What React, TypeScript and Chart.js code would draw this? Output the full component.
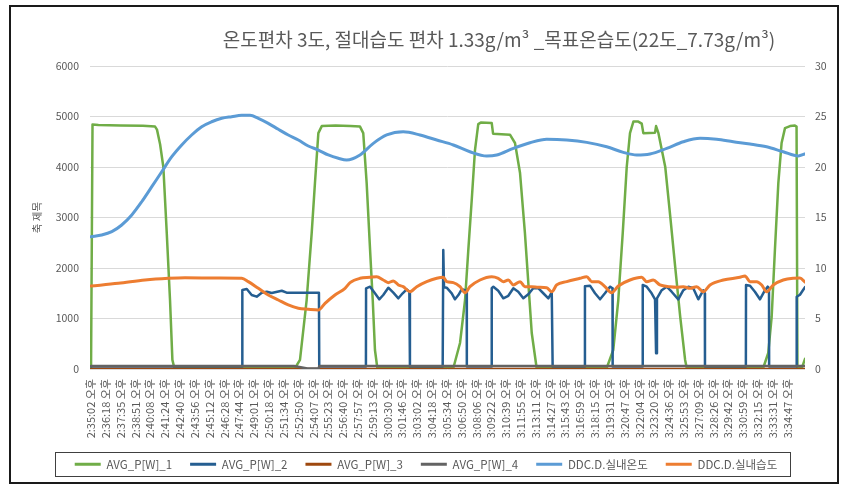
import React, { useEffect, useRef } from 'react';
import { Chart, registerables } from 'chart.js';

Chart.register(...registerables);

const TITLE = '온도편차 3도, 절대습도 편차 1.33g/m³ _목표온습도(22도_7.73g/m³)';
const Y_TITLE = '축 제목';

const tickLabels = [
  '2:35:02 오후', '2:36:18 오후', '2:37:35 오후', '2:38:51 오후', '2:40:08 오후', '2:41:24 오후',
  '2:42:40 오후', '2:43:56 오후', '2:45:12 오후', '2:46:28 오후', '2:47:44 오후', '2:49:01 오후',
  '2:50:18 오후', '2:51:34 오후', '2:52:50 오후', '2:54:07 오후', '2:55:23 오후', '2:56:40 오후',
  '2:57:57 오후', '2:59:13 오후', '3:00:30 오후', '3:01:46 오후', '3:03:02 오후', '3:04:18 오후',
  '3:05:34 오후', '3:06:50 오후', '3:08:06 오후', '3:09:22 오후', '3:10:39 오후', '3:11:55 오후',
  '3:13:11 오후', '3:14:27 오후', '3:15:43 오후', '3:16:59 오후', '3:18:15 오후', '3:19:31 오후',
  '3:20:47 오후', '3:22:04 오후', '3:23:20 오후', '3:24:36 오후', '3:25:53 오후', '3:27:09 오후',
  '3:28:26 오후', '3:29:42 오후', '3:30:59 오후', '3:32:15 오후', '3:33:31 오후', '3:34:47 오후',
];

const seriesNames = ['AVG_P[W]_1', 'AVG_P[W]_2', 'AVG_P[W]_3', 'AVG_P[W]_4', 'DDC.D.실내온도', 'DDC.D.실내습도'];
const seriesColors = ['#70AD47', '#255E91', '#9E480E', '#636363', '#5B9BD5', '#ED7D31'];

// x = position along the time axis, in label intervals (label i sits at x = i)
const avgP1: [number, number][] = [
  [0, 20], [0.1, 4840], [0.5, 4830], [2, 4820], [3.5, 4815], [4.32, 4800], [4.45, 4740], [4.66, 4450],
  [4.88, 4000], [5.11, 2690], [5.33, 1366], [5.49, 180], [5.62, 20],
  [13.77, 20], [14.1, 180], [14.55, 1366], [14.89, 2690], [15.11, 3680], [15.34, 4670], [15.57, 4810],
  [16.5, 4820], [17.5, 4810], [18.15, 4800], [18.37, 4670], [18.6, 3680], [18.83, 2360], [19.01, 1366],
  [19.16, 376], [19.32, 20],
  [24.45, 20], [24.9, 515], [25.24, 1366], [25.46, 2360], [25.69, 3346], [25.91, 4336], [26.13, 4850],
  [26.3, 4880], [27.04, 4870], [27.13, 4660], [28.27, 4640], [28.61, 4475], [28.95, 3880], [29.28, 2690],
  [29.51, 1700], [29.74, 713], [30.07, 20],
  [34.8, 20], [35.24, 376], [35.58, 1366], [35.88, 2690], [36.15, 4000], [36.37, 4670], [36.6, 4900],
  [36.93, 4900], [37.16, 4860], [37.27, 4670], [38.06, 4680], [38.13, 4810], [38.29, 4670], [38.75, 4000],
  [39.09, 3010], [39.42, 2020], [39.76, 1030], [40.09, 180], [40.2, 20],
  [45.36, 20], [45.7, 317], [45.93, 1030], [46.15, 2360], [46.38, 3680], [46.6, 4475], [46.83, 4770],
  [47.17, 4810], [47.5, 4820], [47.61, 4800], [47.67, 20], [47.97, 20], [48.18, 200],
];

const avgP2: [number, number][] = [
  [0, 50], [10.2, 50], [10.21, 1564], [10.51, 1584], [10.84, 1465], [11.18, 1432], [11.52, 1511],
  [11.86, 1530], [12.19, 1505], [12.87, 1550], [13.2, 1511], [15.38, 1511], [15.4, 50],
  [18.55, 50], [18.56, 1597], [18.83, 1630], [19.16, 1499], [19.45, 1380], [19.72, 1465], [20.06, 1610],
  [20.4, 1511], [20.74, 1400], [21.03, 1499], [21.3, 1578], [21.48, 1531], [21.52, 50],
  [23.73, 50], [23.77, 2356], [23.82, 1620], [24.0, 1610], [24.34, 1499], [24.56, 1380], [24.79, 1465],
  [25.02, 1580], [25.24, 1560], [25.35, 1540], [25.36, 50],
  [27.03, 50], [27.04, 1600], [27.15, 1630], [27.48, 1550], [27.82, 1400], [28.16, 1450], [28.5, 1600],
  [28.83, 1530], [29.17, 1400], [29.51, 1480], [29.84, 1600], [30.18, 1600], [30.52, 1500], [30.86, 1400],
  [31.09, 1520], [31.15, 50],
  [33.32, 50], [33.33, 1640], [33.67, 1650], [34.01, 1499], [34.35, 1380], [34.68, 1499], [35.02, 1630],
  [35.19, 1600], [35.2, 50],
  [37.22, 50], [37.23, 1663], [37.5, 1630], [37.83, 1499], [38.06, 1380], [38.13, 310], [38.19, 1400],
  [38.51, 1560], [38.85, 1630], [39.18, 1530], [39.63, 1380], [39.97, 1560], [40.31, 1630], [40.64, 1600],
  [40.98, 1380], [41.32, 1560], [41.42, 1500], [41.43, 50],
  [44.19, 50], [44.2, 1663], [44.47, 1650], [44.8, 1530], [45.14, 1380], [45.48, 1560], [45.66, 1630],
  [45.75, 1600], [45.76, 50],
  [47.61, 50], [47.62, 1430], [47.84, 1470], [48.04, 1560], [48.18, 1620],
];

const avgP3: [number, number][] = [[0, 0], [48.18, 0]];

const avgP4: [number, number][] = [[0, 60], [13.7, 60], [14.6, 8], [15.36, 8], [15.4, 60], [48.18, 60]];

const roomTemp: [number, number][] = [
  [0, 13.1], [0.72, 13.27], [1.4, 13.6], [2.07, 14.26], [2.75, 15.25], [3.42, 16.56], [4.1, 18.05],
  [4.77, 19.53], [5.45, 21.02], [6.12, 22.18], [6.79, 23.17], [7.47, 23.99], [8.14, 24.48], [8.82, 24.82],
  [9.49, 24.98], [10.17, 25.12], [10.73, 25.12], [11.29, 24.82], [11.96, 24.32], [12.64, 23.73],
  [13.31, 23.17], [13.99, 22.67], [14.66, 22.08], [15.34, 21.68], [16.01, 21.19], [16.69, 20.86],
  [17.25, 20.69], [18.15, 21.19], [19.05, 22.34], [19.95, 23.17], [21.07, 23.49], [22.2, 23.17],
  [23.33, 22.67], [24.45, 22.18], [25.57, 21.51], [26.7, 21.09], [27.38, 21.19], [28.5, 21.85],
  [29.62, 22.4], [30.75, 22.74], [32.1, 22.67], [33.45, 22.44], [34.8, 22.0], [35.92, 21.45],
  [36.82, 21.19], [37.72, 21.29], [38.85, 21.85], [39.97, 22.5], [41.1, 22.84], [42.22, 22.74],
  [43.34, 22.5], [44.47, 22.28], [45.59, 22.0], [46.71, 21.51], [47.73, 21.09], [48.18, 21.3],
];

const roomHumid: [number, number][] = [
  [0, 8.22], [1.84, 8.48], [3.64, 8.81], [5.22, 8.98], [6.34, 9.04], [8.59, 9.0], [10.17, 8.98],
  [10.61, 8.65], [11.29, 7.99], [11.96, 7.33], [12.64, 6.83], [13.31, 6.34], [13.99, 6.01], [14.66, 5.91],
  [15.34, 5.84], [15.79, 6.5], [16.46, 7.33], [17.14, 7.99], [17.48, 8.55], [18.15, 8.98], [18.83, 9.08],
  [19.28, 9.14], [19.72, 8.81], [20.06, 8.55], [20.4, 8.72], [20.74, 8.32], [21.07, 8.15], [21.52, 7.65],
  [21.98, 8.15], [22.65, 8.65], [23.33, 8.98], [23.77, 9.08], [24.0, 8.65], [24.45, 8.55], [24.9, 8.15],
  [25.24, 7.55], [25.57, 8.15], [26.25, 8.81], [27.04, 9.14], [27.48, 8.98], [27.82, 8.65], [28.16, 8.81],
  [28.5, 8.32], [28.95, 8.65], [29.28, 8.15], [29.74, 8.15], [30.18, 8.1], [30.75, 8.05], [31.09, 7.65],
  [31.42, 8.32], [32.1, 8.65], [33.0, 8.98], [33.45, 9.14], [33.79, 8.65], [34.23, 8.65], [34.68, 8.15],
  [35.13, 7.55], [35.58, 8.22], [36.37, 8.81], [37.16, 9.08], [37.5, 8.65], [37.94, 8.81], [38.39, 8.32],
  [39.07, 8.15], [39.52, 8.1], [39.97, 8.15], [40.42, 7.99], [40.87, 8.15], [41.32, 7.65], [41.77, 8.32],
  [42.67, 8.81], [43.79, 9.08], [44.13, 9.21], [44.47, 8.65], [44.92, 8.65], [45.26, 8.32], [45.59, 7.65],
  [46.04, 8.32], [46.71, 8.81], [47.39, 8.98], [47.84, 9.0], [48.18, 8.6],
];

const leftAxis = { min: 0, max: 6000, step: 1000 };
const rightAxis = { min: 0, max: 30, step: 5 };
const xRange = { min: -0.07, max: 48.18 };

const FONT = '"Noto Sans CJK KR", "Noto Sans", sans-serif';
const TEXT = '#595959';

const titlePlugin = {
  id: 'customTitle',
  afterDraw(chart: any) {
    const ctx = chart.ctx;
    ctx.save();
    ctx.font = `19px ${FONT}`;
    ctx.fillStyle = TEXT;
    ctx.textAlign = 'center';
    ctx.textBaseline = 'middle';
    ctx.fillText(TITLE, 499, 40);
    ctx.restore();
  },
};

const legendBoxPlugin = {
  id: 'legendBox',
  afterDraw(chart: any) {
    const lg = chart.legend;
    if (!lg || !lg.legendHitBoxes || !lg.legendHitBoxes.length) return;
    const hb = lg.legendHitBoxes;
    const left = Math.min(...hb.map((b: any) => b.left)) - 20;
    const right = Math.max(...hb.map((b: any) => b.left + b.width)) + 12;
    const cy = hb[0].top + hb[0].height / 2;
    const ctx = chart.ctx;
    ctx.save();
    ctx.strokeStyle = '#404040';
    ctx.lineWidth = 1;
    ctx.strokeRect(Math.round(left) + 0.5, Math.round(cy - 12) + 0.5, Math.round(right - left), 24);
    ctx.restore();
  },
};

function toXY(arr: [number, number][]) {
  return arr.map(([x, y]) => ({ x, y }));
}

export default function App() {
  const ref = useRef<HTMLCanvasElement | null>(null);

  useEffect(() => {
    if (!ref.current) return;
    const series = [avgP1, avgP2, avgP3, avgP4, roomTemp, roomHumid];
    const axisIds = ['y', 'y', 'y', 'y', 'y1', 'y1'];
    const widths = [2.5, 2.5, 2.5, 2.5, 3, 3];
    const datasets = series.map((s, i) => ({
      label: seriesNames[i],
      data: toXY(s),
      borderColor: seriesColors[i],
      backgroundColor: seriesColors[i],
      borderWidth: widths[i],
      pointRadius: 0,
      pointHoverRadius: 0,
      yAxisID: axisIds[i],
      order: series.length - i,
      borderJoinStyle: 'round' as const,
      borderCapStyle: 'round' as const,
      tension: 0,
      cubicInterpolationMode: i >= 4 ? ('monotone' as const) : ('default' as const),
    }));

    const chart = new Chart(ref.current, {
      type: 'line',
      data: { datasets },
      plugins: [titlePlugin, legendBoxPlugin],
      options: {
        responsive: false,
        animation: false,
        layout: { padding: { left: 0, right: 0, top: 66, bottom: 12 } },
        plugins: {
          title: { display: false },
          tooltip: { enabled: false },
          legend: {
            display: true,
            position: 'bottom',
            labels: {
              color: TEXT,
              font: { family: FONT, size: 11.5 },
              boxWidth: 26,
              boxHeight: 3,
              padding: 18,
              sort: (a: any, b: any) => a.datasetIndex - b.datasetIndex,
              generateLabels: (c: any) =>
                (Chart.defaults.plugins.legend.labels.generateLabels as any)(c).map((l: any) => ({ ...l, lineWidth: 0 })),
            },
          },
        },
        scales: {
          x: {
            type: 'linear',
            min: xRange.min,
            max: xRange.max,
            grid: { display: false, drawTicks: false },
            border: { display: false },
            afterBuildTicks: (s: any) => {
              s.ticks = tickLabels.map((_, i) => ({ value: i }));
            },
            afterFit: (s: any) => {
              s.height = 71.5;
            },
            ticks: {
              autoSkip: false,
              maxRotation: 90,
              minRotation: 90,
              padding: 10,
              color: TEXT,
              font: { family: FONT, size: 11 },
              callback: (v: any) => tickLabels[Math.round(Number(v))] ?? '',
            },
          },
          y: {
            type: 'linear',
            position: 'left',
            min: leftAxis.min,
            max: leftAxis.max,
            grid: { color: '#D9D9D9', lineWidth: 1, drawTicks: false },
            border: { display: false },
            afterFit: (s: any) => {
              s.width = 90;
            },
            ticks: {
              stepSize: leftAxis.step,
              padding: 11,
              color: TEXT,
              font: { family: FONT, size: 10.5 },
              callback: (v: any) => String(v),
            },
            title: {
              display: true,
              text: Y_TITLE,
              color: TEXT,
              font: { family: FONT, size: 10.5 },
              padding: { top: 31, bottom: 4 },
            },
          },
          y1: {
            type: 'linear',
            position: 'right',
            min: rightAxis.min,
            max: rightAxis.max,
            grid: { display: false, drawTicks: false },
            border: { display: false },
            afterFit: (s: any) => {
              s.width = 47;
            },
            ticks: {
              stepSize: rightAxis.step,
              padding: 10,
              color: TEXT,
              font: { family: FONT, size: 10.5 },
              callback: (v: any) => String(v),
            },
          },
        },
      } as any,
    });
    return () => chart.destroy();
  }, []);

  return (
    <div style={{ position: 'fixed', left: 0, top: 0, width: 852, height: 492, background: '#fff' }}>
      <canvas ref={ref} width={852} height={492} style={{ display: 'block', position: 'absolute', left: 0, top: 0 }} />
      <div
        style={{
          position: 'absolute',
          left: 9,
          top: 5,
          width: 830,
          height: 479,
          boxSizing: 'border-box',
          border: '2px solid #1a1a1a',
          pointerEvents: 'none',
        }}
      />
    </div>
  );
}
